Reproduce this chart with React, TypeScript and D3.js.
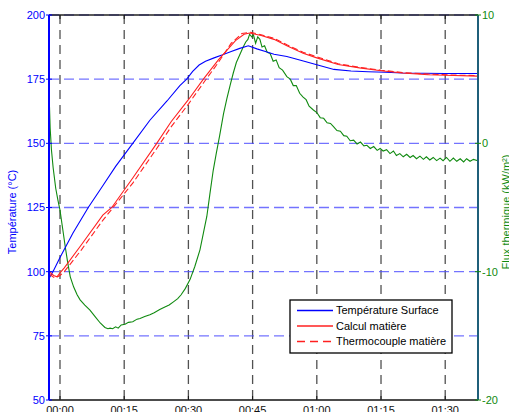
import React, { useEffect, useRef } from "react";
import * as d3 from "d3";

// time in minutes, temperatures in °C, flux in kW/m²
const surfaceTemp: [number, number][] = [
  [-2.5, 97.5], [-1.5, 100.5], [0, 105.5], [3, 115], [6.6, 125], [10, 133.5],
  [13, 141], [17, 150], [21, 159], [25, 166.5], [28, 172.5], [29.6, 175],
  [31, 178], [32.5, 180.5], [34, 182], [36, 183.3], [38, 184.5], [40, 185.8],
  [42, 187], [44, 188], [46, 186.8], [48, 185.8], [50, 184.7], [53, 183.8],
  [56, 182.5], [60, 180.6], [64, 178.8], [68, 178.2], [72, 177.9], [76, 177.7],
  [80, 177.4], [85, 177.3], [90, 177.2], [97.7, 177.2],
];

const calculMatiere: [number, number][] = [
  [-2.5, 100], [-1.5, 98.5], [-0.7, 98], [0, 99.5], [1, 101.5], [5, 110.5],
  [10, 122], [12.1, 125], [17, 136.5], [22.6, 150], [26, 158.5], [30, 167],
  [33.5, 175], [37, 182.5], [41, 190], [43, 192.5], [44.3, 193], [47, 192],
  [50, 190.5], [53, 188], [56.8, 185.1], [60, 183.3], [65, 180.7], [70, 179.4],
  [75, 178.3], [80, 177.4], [86, 176.7], [92, 176.4], [97.7, 176.2],
];

const thermocouple: [number, number][] = [
  [-2.5, 99], [-1.2, 97.5], [0, 98.5], [1, 100], [5, 108.5], [10, 120],
  [17, 134.5], [22.6, 148], [26, 156.5], [30, 165.3], [33.5, 173.5], [37, 181.5],
  [40, 189], [42.5, 192.8], [44.5, 193.3], [47, 192.3], [50, 190.9], [53, 188.4],
  [56.8, 185.5], [60, 183.7], [65, 181], [70, 179.6], [75, 178.5], [80, 177.6],
  [86, 177], [92, 176.6], [97.7, 176.4],
];

const flux: [number, number][] = [
  [-2.6, 4.5], [-2.45, 2.8], [-2.3, 1.2], [-2.0, -0.5], [-1.6, -1.9], [-1.0, -3.5],
  [-0.5, -4.4], [0, -5.2], [0.6, -6.6], [1.2, -8.0], [1.8, -9.3], [2.4, -10.4],
  [3.2, -11.2], [4.0, -11.8], [4.7, -12.2], [5.8, -12.6], [7.0, -13.0], [8.2, -13.5],
  [9.4, -14.0], [10.5, -14.35], [11.2, -14.45], [11.7, -14.4], [12.3, -14.45],
  [13, -14.3], [13.6, -14.4], [14.3, -14.15], [15.2, -14.1], [16, -13.95], [17, -13.9],
  [18, -13.7], [18.7, -13.65], [19.8, -13.5], [21, -13.35], [22, -13.2], [23.3, -12.95],
  [24.5, -12.75], [25.5, -12.6], [26.5, -12.35], [27.5, -12.1], [28.3, -11.8],
  [29.3, -11.3], [30.4, -10.6], [31.5, -9.6], [32.7, -8.3], [33.5, -7.0], [34.3, -5.7],
  [35, -4.0], [35.8, -2.1], [36.5, -0.8], [37.3, 0.6], [38.2, 2.3], [39, 3.5],
  [39.8, 4.6], [40.5, 5.5], [41.2, 6.3], [42, 6.9], [42.8, 7.5], [43.4, 7.9],
  [43.9, 8.1], [44.3, 8.5], [44.8, 8.3], [45.2, 8.45], [45.7, 7.8], [46.2, 8.3],
  [46.7, 8.1], [47.2, 7.5], [47.8, 7.6], [48.4, 7.1], [49.1, 7.0], [49.8, 6.4],
  [50.5, 6.5], [51.2, 5.9], [52, 5.7], [53, 5.2], [53.8, 5.0], [54.5, 4.5],
  [55.2, 4.5], [56, 3.9], [56.8, 3.6], [57.5, 3.4], [58.2, 2.9], [59.2, 2.6],
  [60, 2.4], [60.8, 2.0], [61.6, 1.95], [62.4, 1.6], [63.2, 1.55], [63.9, 1.3],
  [64.7, 1.0], [65.5, 0.95], [66.3, 0.6], [67, 0.55], [67.8, 0.2], [68.6, 0.25],
  [69.4, -0.05], [70.2, 0.1], [71, -0.2], [71.7, -0.15], [72.5, -0.4], [73.3, -0.25],
  [74.1, -0.55], [74.8, -0.4], [75.5, -0.6], [76.3, -0.5], [77.1, -0.8], [77.9, -0.6],
  [78.6, -0.95], [79.4, -0.8], [80.2, -1.05], [81, -0.85], [81.8, -1.1], [82.5, -0.95],
  [83.3, -1.2], [84.1, -1.0], [84.9, -1.25], [85.6, -1.05], [86.4, -1.3], [87.2, -1.1],
  [88, -1.35], [88.8, -1.15], [89.5, -1.35], [90.3, -1.1], [91.1, -1.4], [91.9, -1.15],
  [92.7, -1.4], [93.5, -1.2], [94.3, -1.45], [95, -1.2], [95.8, -1.4], [96.6, -1.25],
  [97.6, -1.35],
];

const timeTicks = [0, 15, 30, 45, 60, 75, 90];
const tempTicks = [50, 75, 100, 125, 150, 175, 200];
const fluxTicks = [-20, -10, 0, 10];
const legendLabels = ["Température Surface", "Calcul matière", "Thermocouple matière"];
const legendColors = ["#0000ff", "#ff2020", "#ff2020"];
const legendDashes = ["none", "none", "8,5"];

const FONT = "'Liberation Sans', Arial, sans-serif";

export default function App() {
  const svgRef = useRef<SVGSVGElement>(null);

  useEffect(() => {
    document.body.style.margin = "0";
    const svg = d3.select(svgRef.current);
    svg.selectAll("*").remove();

    const left = 49, right = 478, top = 15, bottom = 400;

    const x = d3.scaleLinear().domain([-2.57, 97.66]).range([left, right]);
    const yT = d3.scaleLinear().domain([50, 200]).range([bottom, top]);
    const yF = d3.scaleLinear().domain([-20, 10]).range([bottom, top]);

    svg.append("rect").attr("width", 509).attr("height", 412).attr("fill", "#fff");

    svg.append("defs").append("clipPath").attr("id", "plot")
      .append("rect").attr("x", left).attr("y", top)
      .attr("width", right - left).attr("height", bottom - top);

    // vertical grid (black dashed)
    svg.append("g").selectAll("line").data(timeTicks).join("line")
      .attr("x1", d => x(d)).attr("x2", d => x(d))
      .attr("y1", top).attr("y2", bottom)
      .attr("stroke", "#333").attr("stroke-opacity", 0.85)
      .attr("stroke-width", 1.3).attr("stroke-dasharray", "9,6");

    // horizontal grid (blue dashed)
    svg.append("g").selectAll("line").data(tempTicks.filter(d => d > 50)).join("line")
      .attr("x1", left).attr("x2", right)
      .attr("y1", d => yT(d)).attr("y2", d => yT(d))
      .attr("stroke", "#5050ff").attr("stroke-opacity", 0.8)
      .attr("stroke-width", 1.3).attr("stroke-dasharray", "10,5");

    const plot = svg.append("g").attr("clip-path", "url(#plot)");

    const lineT = d3.line<[number, number]>().x(d => x(d[0])).y(d => yT(d[1]));
    const lineF = d3.line<[number, number]>().x(d => x(d[0])).y(d => yF(d[1]));

    plot.append("path").datum(flux).attr("d", lineF)
      .attr("fill", "none").attr("stroke", "#108a10").attr("stroke-width", 1.1);
    plot.append("path").datum(surfaceTemp).attr("d", lineT)
      .attr("fill", "none").attr("stroke", "#0000ff").attr("stroke-width", 1.1);
    plot.append("path").datum(thermocouple).attr("d", lineT)
      .attr("fill", "none").attr("stroke", "#ff2020").attr("stroke-width", 1.1)
      .attr("stroke-dasharray", "6,3");
    plot.append("path").datum(calculMatiere).attr("d", lineT)
      .attr("fill", "none").attr("stroke", "#ff2020").attr("stroke-width", 1.1);

    // frame
    svg.append("line").attr("x1", left).attr("x2", right).attr("y1", top).attr("y2", top)
      .attr("stroke", "#222").attr("stroke-width", 1.5);
    svg.append("line").attr("x1", left).attr("x2", right).attr("y1", bottom).attr("y2", bottom)
      .attr("stroke", "#111").attr("stroke-width", 1.5);
    svg.append("line").attr("x1", left).attr("x2", left).attr("y1", top).attr("y2", bottom)
      .attr("stroke", "#0000ff").attr("stroke-width", 2);
    svg.append("line").attr("x1", right).attr("x2", right).attr("y1", top).attr("y2", bottom)
      .attr("stroke", "#1f5f7a").attr("stroke-width", 2);

    // x ticks + labels
    const xt = svg.append("g").selectAll("g").data(timeTicks).join("g");
    xt.append("line").attr("x1", d => x(d)).attr("x2", d => x(d))
      .attr("y1", bottom).attr("y2", bottom - 4).attr("stroke", "#111");
    xt.append("line").attr("x1", d => x(d)).attr("x2", d => x(d))
      .attr("y1", top).attr("y2", top + 4).attr("stroke", "#111");
    xt.append("text").attr("x", d => x(d)).attr("y", 414)
      .attr("text-anchor", "middle").attr("font-family", FONT).attr("font-size", 11)
      .attr("fill", "#111")
      .text(d => `${String(Math.floor(d / 60)).padStart(2, "0")}:${String(d % 60).padStart(2, "0")}`);

    // left axis
    const lt = svg.append("g").selectAll("g").data(tempTicks).join("g");
    lt.append("line").attr("x1", left - 3).attr("x2", left + 3)
      .attr("y1", d => yT(d)).attr("y2", d => yT(d)).attr("stroke", "#0000ff");
    lt.append("text").attr("x", left - 4).attr("y", d => yT(d)).attr("dy", "0.35em")
      .attr("text-anchor", "end").attr("font-family", FONT).attr("font-size", 11)
      .attr("fill", "#0000ff").text(d => d);

    // right axis
    const rt = svg.append("g").selectAll("g").data(fluxTicks).join("g");
    rt.append("line").attr("x1", right - 3).attr("x2", right + 3)
      .attr("y1", d => yF(d)).attr("y2", d => yF(d)).attr("stroke", "#108a10");
    rt.append("text").attr("x", right + 4).attr("y", d => yF(d)).attr("dy", "0.35em")
      .attr("font-family", FONT).attr("font-size", 11)
      .attr("fill", "#108a10").text(d => d);

    // axis titles
    svg.append("text").attr("transform", "translate(16,212) rotate(-90)")
      .attr("text-anchor", "middle").attr("font-family", FONT).attr("font-size", 11)
      .attr("fill", "#0000ff").text("Température (°C)");
    svg.append("text").attr("transform", "translate(510,212) rotate(-90)")
      .attr("text-anchor", "middle").attr("font-family", FONT).attr("font-size", 11)
      .attr("fill", "#108a10").text("Flux thermique (kW/m²)");

    // legend
    const lg = svg.append("g").attr("transform", "translate(290,300)");
    lg.append("rect").attr("width", 162).attr("height", 53)
      .attr("fill", "#fff").attr("stroke", "#000").attr("stroke-width", 1.3);
    legendLabels.forEach((label, i) => {
      const ly = 10.5 + i * 15.5;
      lg.append("path")
        .attr("d", d3.line()([[7, ly], [43, ly]]))
        .attr("fill", "none")
        .attr("stroke", legendColors[i]).attr("stroke-width", 1.3)
        .attr("stroke-dasharray", legendDashes[i]);
      lg.append("text").attr("x", 46).attr("y", ly).attr("dy", "0.35em")
        .attr("font-family", FONT).attr("font-size", 11).attr("fill", "#000")
        .text(label);
    });
  }, []);

  return <svg ref={svgRef} width={509} height={412} style={{ display: "block" }} />;
}
